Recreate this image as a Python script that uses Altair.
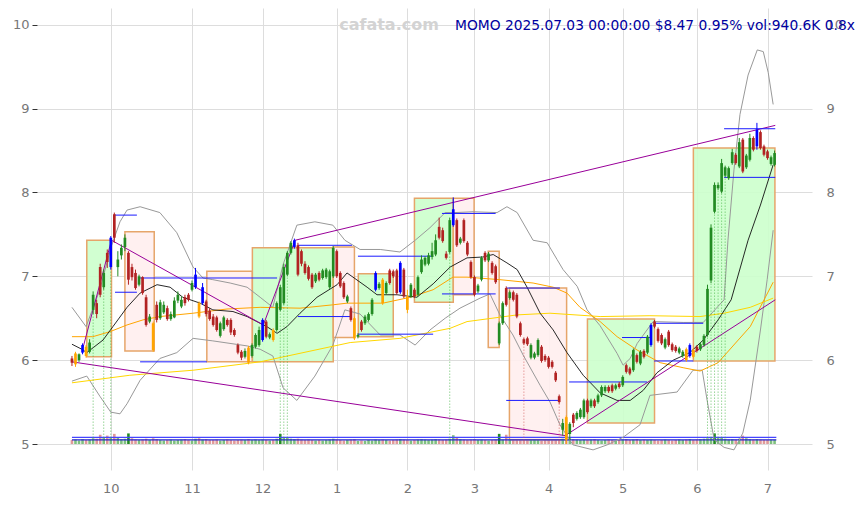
import altair as alt
import pandas as pd

# ---------------- daily candles (trading-day index 0..199, 2024-09-16 .. 2025-07-03) -------------
open_ = [6.02, 5.95, 6.00, 6.09, 6.16, 6.10, 6.60, 6.68, 7.11, 6.87,
         7.28, 7.11, 7.74, 7.11, 7.25, 7.35, 7.28, 7.11, 7.04, 6.90,
         6.99, 6.75, 6.46, 6.44, 6.66, 6.50, 6.57, 6.62, 6.49, 6.51,
         6.71, 6.64, 6.75, 6.78, 6.84, 6.87, 6.68, 6.68, 6.70, 6.59,
         6.52, 6.51, 6.29, 6.37, 6.48, 6.48, 6.36, 6.18, 6.10, 6.04,
         6.15, 6.05, 6.16, 6.18, 6.24, 6.46, 6.27, 6.36, 6.36, 6.60,
         6.68, 7.02, 7.28, 7.35, 7.37, 7.30, 7.15, 7.11, 7.02, 6.94,
         7.04, 6.98, 6.99, 6.87, 7.00, 7.30, 7.04, 6.92, 6.70, 6.62,
         6.50, 6.28, 6.46, 6.44, 6.48, 6.55, 6.84, 6.86, 6.96, 6.80,
         7.07, 7.06, 7.07, 6.81, 7.08, 6.76, 6.76, 6.84, 6.78, 7.05,
         7.14, 7.15, 7.23, 7.26, 7.59, 7.55, 7.27, 7.29, 7.61, 7.67,
         7.40, 7.67, 7.40, 7.17, 6.99, 6.82, 6.96, 7.28, 7.19, 7.16,
         7.12, 6.20, 6.44, 6.86, 6.74, 6.81, 6.78, 6.44, 6.25, 6.26,
         6.03, 6.03, 6.06, 6.16, 6.05, 6.03, 5.98, 5.85, 5.57, 5.17,
         5.32, 5.12, 5.35, 5.30, 5.32, 5.32, 5.52, 5.45, 5.52, 5.50,
         5.58, 5.63, 5.68, 5.70, 5.66, 5.72, 5.70, 5.94, 5.90, 5.88,
         6.06, 5.96, 6.11, 6.09, 6.18, 6.46, 6.37, 6.30, 6.15, 6.34,
         6.19, 6.16, 6.09, 6.05, 6.13, 6.05, 6.12, 6.16, 6.13, 6.18,
         6.30, 6.95, 7.77, 8.05, 8.01, 8.20, 8.17, 8.35, 8.45, 8.31,
         8.63, 8.30, 8.39, 8.65, 8.55, 8.72, 8.55, 8.49, 8.34, 8.33]
close = [5.97, 6.08, 6.07, 6.18, 6.05, 6.21, 6.78, 6.55, 6.78, 7.04,
         7.17, 7.46, 7.46, 7.20, 7.34, 7.46, 6.96, 6.99, 6.86, 7.00,
         6.80, 6.42, 6.52, 6.12, 6.48, 6.69, 6.66, 6.49, 6.55, 6.71,
         6.78, 6.72, 6.68, 6.72, 6.92, 7.02, 6.52, 6.87, 6.55, 6.49,
         6.42, 6.36, 6.44, 6.51, 6.42, 6.33, 6.30, 6.09, 6.03, 6.11,
         5.97, 6.18, 6.30, 6.36, 6.48, 6.28, 6.31, 6.24, 6.68, 6.87,
         7.11, 7.28, 7.40, 7.43, 7.02, 7.15, 7.04, 6.97, 6.87, 7.02,
         6.96, 7.07, 7.08, 7.06, 7.34, 7.00, 6.88, 6.75, 6.76, 6.48,
         6.26, 6.30, 6.36, 6.52, 6.55, 6.72, 7.04, 6.91, 6.68, 6.92,
         6.92, 7.00, 6.80, 7.16, 6.76, 6.60, 6.90, 6.76, 6.99, 7.20,
         7.22, 7.25, 7.30, 7.43, 7.46, 7.42, 7.22, 7.67, 7.80, 7.37,
         7.45, 7.42, 7.26, 6.99, 6.78, 6.89, 7.22, 7.19, 7.27, 7.04,
         6.93, 6.44, 6.68, 6.66, 6.81, 6.72, 6.52, 6.30, 6.20, 6.19,
         6.18, 6.08, 6.24, 5.99, 6.00, 5.92, 5.92, 5.76, 5.50, 5.25,
         5.05, 5.24, 5.25, 5.37, 5.41, 5.52, 5.38, 5.52, 5.45, 5.58,
         5.68, 5.68, 5.63, 5.63, 5.70, 5.68, 5.80, 5.86, 5.84, 6.12,
         5.98, 6.10, 6.04, 6.28, 6.42, 6.40, 6.23, 6.20, 6.25, 6.18,
         6.12, 6.11, 6.14, 6.10, 6.00, 6.18, 6.04, 6.11, 6.19, 6.29,
         6.85, 7.58, 8.09, 8.09, 8.35, 8.30, 8.29, 8.48, 8.35, 8.60,
         8.25, 8.44, 8.65, 8.51, 8.75, 8.53, 8.45, 8.41, 8.42, 8.47]
high = [6.05, 6.10, 6.08, 6.20, 6.18, 6.25, 6.82, 6.72, 7.15, 7.08,
        7.32, 7.48, 7.76, 7.30, 7.38, 7.50, 7.30, 7.15, 7.08, 7.02,
        7.00, 6.78, 6.55, 6.46, 6.70, 6.72, 6.70, 6.65, 6.58, 6.75,
        6.82, 6.76, 6.78, 6.80, 6.95, 7.10, 6.70, 6.92, 6.72, 6.62,
        6.55, 6.53, 6.46, 6.53, 6.50, 6.50, 6.38, 6.20, 6.12, 6.14,
        6.17, 6.20, 6.32, 6.40, 6.50, 6.48, 6.33, 6.38, 6.70, 6.90,
        7.15, 7.30, 7.42, 7.45, 7.40, 7.32, 7.18, 7.13, 7.04, 7.04,
        7.06, 7.09, 7.10, 7.08, 7.36, 7.32, 7.06, 6.94, 6.78, 6.64,
        6.52, 6.32, 6.48, 6.54, 6.57, 6.74, 7.06, 6.93, 6.98, 6.94,
        7.09, 7.08, 7.09, 7.18, 7.10, 6.84, 6.92, 6.86, 7.01, 7.25,
        7.24, 7.28, 7.40, 7.50, 7.70, 7.58, 7.30, 7.70, 7.94, 7.69,
        7.47, 7.69, 7.42, 7.19, 7.01, 6.91, 7.24, 7.30, 7.29, 7.18,
        7.14, 6.46, 6.70, 6.88, 6.83, 6.83, 6.80, 6.46, 6.27, 6.28,
        6.20, 6.10, 6.26, 6.18, 6.07, 6.05, 6.00, 5.87, 5.59, 5.30,
        5.34, 5.26, 5.37, 5.39, 5.43, 5.54, 5.54, 5.54, 5.54, 5.60,
        5.70, 5.70, 5.70, 5.72, 5.72, 5.74, 5.82, 5.96, 5.92, 6.14,
        6.08, 6.12, 6.13, 6.30, 6.44, 6.48, 6.39, 6.32, 6.27, 6.36,
        6.21, 6.18, 6.16, 6.12, 6.15, 6.20, 6.14, 6.18, 6.21, 6.31,
        6.90, 7.62, 8.12, 8.12, 8.40, 8.32, 8.31, 8.52, 8.47, 8.65,
        8.65, 8.46, 8.70, 8.67, 8.83, 8.74, 8.57, 8.51, 8.44, 8.50]
low = [5.93, 5.92, 5.98, 6.07, 6.03, 6.08, 6.55, 6.50, 6.75, 6.84,
       7.10, 7.08, 7.40, 7.00, 7.20, 7.30, 6.90, 6.95, 6.84, 6.88,
       6.78, 6.40, 6.44, 6.10, 6.45, 6.48, 6.55, 6.47, 6.47, 6.50,
       6.68, 6.62, 6.65, 6.70, 6.82, 6.85, 6.50, 6.66, 6.52, 6.47,
       6.40, 6.34, 6.27, 6.35, 6.40, 6.30, 6.28, 6.07, 6.00, 6.02,
       5.95, 6.03, 6.14, 6.16, 6.22, 6.26, 6.25, 6.22, 6.34, 6.58,
       6.66, 7.00, 7.26, 7.33, 7.00, 7.12, 7.02, 6.95, 6.85, 6.92,
       6.94, 6.96, 6.97, 6.85, 6.98, 6.98, 6.86, 6.73, 6.68, 6.46,
       6.24, 6.26, 6.34, 6.42, 6.46, 6.53, 6.82, 6.84, 6.66, 6.78,
       6.90, 6.98, 6.78, 6.79, 6.74, 6.56, 6.74, 6.74, 6.76, 7.03,
       7.12, 7.13, 7.20, 7.24, 7.44, 7.40, 7.20, 7.27, 7.59, 7.35,
       7.38, 7.40, 7.24, 6.97, 6.76, 6.80, 6.94, 7.17, 7.17, 7.02,
       6.91, 6.18, 6.42, 6.64, 6.72, 6.70, 6.50, 6.28, 6.18, 6.17,
       6.01, 6.01, 6.04, 5.97, 5.98, 5.90, 5.90, 5.74, 5.48, 5.10,
       5.00, 5.05, 5.20, 5.28, 5.30, 5.30, 5.36, 5.43, 5.43, 5.48,
       5.56, 5.61, 5.61, 5.61, 5.64, 5.66, 5.68, 5.84, 5.82, 5.86,
       5.96, 5.94, 6.02, 6.07, 6.16, 6.38, 6.21, 6.18, 6.13, 6.16,
       6.10, 6.09, 6.07, 6.03, 5.98, 6.03, 6.02, 6.09, 6.11, 6.16,
       6.28, 6.92, 7.75, 8.03, 7.99, 8.18, 8.15, 8.33, 8.33, 8.29,
       8.23, 8.28, 8.37, 8.49, 8.51, 8.51, 8.43, 8.39, 8.32, 8.31]
volume_k = [900, 1000, 800, 1100, 900, 1000, 1300, 1200, 2100, 1400,
            1900, 1600, 2300, 1500, 1100, 1200, 2400, 1300, 1000, 900,
            1000, 1200, 900, 1300, 1100, 900, 800, 900, 1000, 800,
            900, 1000, 1100, 900, 800, 1200, 1300, 1000, 1100, 900,
            900, 1000, 800, 900, 1000, 900, 800, 900, 1000, 900,
            1100, 900, 1000, 900, 1000, 900, 800, 900, 1200, 2300,
            1500, 1400, 1200, 1100, 1200, 1000, 900, 1000, 900, 800,
            900, 800, 900, 1000, 1200, 1000, 900, 800, 900, 1000,
            1100, 700, 800, 700, 900, 800, 1000, 900, 1000, 900,
            800, 900, 1000, 1100, 1000, 900, 800, 900, 1000, 1100,
            1000, 900, 1000, 1100, 1000, 900, 1000, 1200, 2000, 1400,
            1100, 1000, 900, 1000, 1100, 900, 1000, 900, 800, 900,
            1000, 2300, 1000, 2100, 1100, 1000, 900, 1000, 1100, 1000,
            900, 1000, 900, 800, 900, 1000, 900, 1000, 1100, 1200,
            2600, 1300, 1100, 1000, 900, 1000, 900, 1000, 1100, 900,
            800, 900, 1000, 900, 800, 900, 1000, 1100, 900, 1000,
            1100, 900, 1000, 900, 1000, 900, 800, 900, 1000, 900,
            800, 900, 1000, 900, 1000, 1100, 900, 1000, 1100, 1200,
            1300, 1500, 2400, 1600, 1400, 1200, 1000, 1100, 1000, 1200,
            1900, 1300, 1100, 1000, 1100, 1000, 900, 900, 1000, 940]
blue_idx = [3, 11, 35, 37, 54, 63, 86, 93, 108, 164, 175, 194]
orange_idx = [1, 4, 23, 36, 50, 57, 80, 88, 95, 140, 174, 176]
strong_vol_idx = [16, 59, 121, 182]
dot_green_idx = [6, 9, 11, 59, 60, 61, 107, 180, 181, 182, 183, 184, 185]
dot_red_idx = [128, 138]

# month ticks (first trading day of each month)
tick_idx = [11, 34, 54, 75, 95, 114, 135, 156, 177, 197]
tick_lab = ['10', '11', '12', '1', '2', '3', '4', '5', '6', '7']

# ---------------- indicator lines (index, price) ----------------
bb_up_i = [0, 4, 7.9, 11, 13.6, 15.6, 19.3, 24.9, 29.7, 34.3, 37.1, 39.9, 44.8, 49.6, 53.3, 56.9,
           59.8, 63.7, 68.8, 73.9, 77.3, 81.6, 87.3, 92.9, 97.2, 101.4, 105.7, 108.5, 113.6,
           120.4, 123.2, 126.1, 130.6, 134.6, 137.4, 139.1, 143.1, 145.9, 149.6, 154.4, 156.1,
           158.1, 160.1, 164.6, 173.1, 178.8, 184.7, 185.8, 187.5, 189.2, 191.5, 194.1, 195.8,
           197.2, 198.6]
bb_up_p = [6.63, 6.40, 6.84, 7.34, 7.65, 7.79, 7.83, 7.76, 7.52, 7.11, 6.98, 6.96, 6.92, 6.87, 6.75, 6.63,
           7.14, 7.61, 7.65, 7.61, 7.43, 7.32, 7.32, 7.29, 7.43, 7.58, 7.76, 7.76, 7.77,
           7.76, 7.83, 7.76, 7.43, 7.40, 7.20, 7.08, 6.88, 6.60, 6.41, 6.08, 5.94,
           6.02, 6.20, 6.46, 6.45, 6.45, 6.72, 7.43, 8.27, 8.93, 9.40, 9.70, 9.68,
           9.43, 9.05]
bb_lo_i = [0, 4.2, 7.9, 11, 13.6, 15.6, 19.3, 24.9, 29.7, 34.3, 39.9, 49.6, 53.3, 56.9, 59.8, 63.7,
           68.8, 73.9, 77.3, 81.6, 87.3, 92.9, 97.2, 101.4, 105.7, 109.9, 115.6, 118.4, 121.2,
           124.9, 127.8, 132.6, 135.4, 138.2, 141.9, 147.6, 151.6, 156.1, 160.9, 163.7, 171.4,
           175.9, 178.5, 179.9, 181.9, 184.7, 187.5, 190, 192.1, 195, 196.9, 198.6]
bb_lo_p = [5.75, 5.81, 5.57, 5.38, 5.36, 5.48, 5.76, 6.02, 6.09, 6.26, 6.23, 6.17, 6.13, 6.05, 5.67, 5.52,
           5.81, 6.18, 6.60, 6.55, 6.30, 6.30, 6.18, 6.36, 6.50, 6.62, 6.74, 6.79, 6.54,
           6.30, 6.06, 5.70, 5.50, 5.23, 4.99, 4.93, 4.99, 5.08, 5.23, 5.58, 5.62,
           5.88, 5.88, 5.52, 5.05, 4.96, 4.93, 5.13, 5.52, 6.36, 6.96, 7.55]
ma20_i = [0, 2.8, 4.2, 8.8, 11.6, 15.6, 19.3, 24.1, 27.8, 31.4, 36.3, 39.9, 45.6, 49.6, 53.3, 55.2,
          58.1, 60.9, 64.6, 69.4, 75.1, 77.9, 79.6, 83.6, 86.4, 92.1, 97.7, 102.3, 107.1, 111.9,
          116.4, 119.3, 123.2, 126.1, 128.9, 132.6, 136.3, 140.2, 144.8, 149.6, 154.4, 158.1,
          161.8, 165.7, 170.3, 175, 178.8, 183, 186.7, 191.5, 195, 198.6]
ma20_p = [6.19, 6.13, 6.09, 6.24, 6.40, 6.63, 6.80, 6.90, 6.87, 6.75, 6.68, 6.60, 6.58, 6.52, 6.44, 6.40,
          6.32, 6.40, 6.56, 6.75, 6.90, 7.04, 6.99, 6.87, 6.78, 6.78, 6.75, 6.91, 7.11, 7.22,
          7.23, 7.26, 7.16, 7.08, 6.87, 6.56, 6.36, 6.09, 5.82, 5.61, 5.52, 5.52,
          5.64, 5.85, 6.00, 6.09, 6.24, 6.48, 6.72, 7.43, 7.85, 8.33]
ma60_i = [0, 5.9, 10.8, 15.6, 20.1, 24.9, 34.3, 43.9, 53.3, 64.6, 73.9, 77.9, 88.1, 95.8, 102.3,
          107.9, 111.9, 121.2, 130.6, 136.3, 140.2, 143.9, 149.6, 154.4, 160.1, 166.6, 173.1,
          177.9, 183, 188.7, 192.1, 198.6]
ma60_p = [6.28, 6.28, 6.34, 6.42, 6.48, 6.52, 6.56, 6.61, 6.63, 6.62, 6.66, 6.68, 6.68, 6.75, 6.84,
          6.99, 6.99, 6.96, 6.92, 6.87, 6.80, 6.63, 6.46, 6.28, 6.12, 5.97, 5.91,
          5.87, 5.97, 6.24, 6.40, 6.93]
ma120_i = [0, 16.4, 34.3, 53.3, 78.8, 92.9, 107.1, 111.9, 126.1, 135.4, 149.6, 163.7, 177.9,
           184.7, 192.1, 198.6]
ma120_p = [5.73, 5.82, 5.88, 5.98, 6.21, 6.26, 6.38, 6.46, 6.54, 6.56, 6.52, 6.53, 6.52,
           6.56, 6.63, 6.74]

# purple trend lines: (start index, start price, end index, end price)
trend_x1 = [0, 3.2, 11.2, 54.2, 63.2, 139.7]
trend_y1 = [5.98, 6.16, 7.43, 6.42, 7.43, 5.10]
trend_x2 = [139.7, 11.2, 54.2, 63.2, 199.2, 199.2]
trend_y2 = [5.10, 7.43, 6.42, 7.43, 8.80, 6.72]

# blue level segments
lvl_x1 = [12.2, 12.2, 19.3, 19.3, 64, 64, 81, 81, 104.8, 104.8, 123, 123, 140.8, 155.8, 164.9, 164.9, 184.7, 184.7]
lvl_x2 = [18.4, 18.4, 58.1, 38.2, 79.3, 79.3, 102.3, 102.3, 120, 120, 138.2, 138.2, 162.9, 163.7, 178.8, 176, 199.2, 199.2]
lvl_p = [7.73, 6.81, 6.98, 5.98, 7.37, 6.52, 7.24, 6.31, 7.75, 6.79, 6.86, 5.52, 5.74, 6.27, 6.44, 5.99, 8.76, 8.18]

# zone boxes
box_x1 = [4.2, 15.0, 38.2, 51.1, 74.0, 81.1, 97.0, 108.0, 117.9, 123.9, 146.0, 176.0]
box_x2 = [11.2, 23.3, 51.1, 74.0, 80.0, 91.0, 108.0, 113.9, 121.0, 140.1, 165.0, 199.1]
box_lo = [6.04, 6.11, 5.98, 5.98, 6.27, 6.28, 6.69, 6.78, 6.15, 5.05, 5.25, 5.99]
box_hi = [7.43, 7.53, 7.06, 7.34, 7.35, 7.03, 7.93, 7.93, 7.30, 6.86, 6.49, 8.53]
box_kind = ['up', 'down', 'down', 'up', 'down', 'up', 'up', 'down', 'down', 'down', 'up', 'up']

# volume average lines (price-axis positions of the thin bands at the bottom)
vol_avg_p = [5.08, 5.05]

title_text = 'MOMO 2025.07.03 00:00:00 $8.47 0.95% vol:940.6K 0.8x'
watermark = 'cafata.com'

# ---------------- build frames ----------------
N = len(close)
kind = []
for k in range(N):
    if k in blue_idx:
        kind.append('blue')
    elif k in orange_idx:
        kind.append('orange')
    elif close[k] >= open_[k]:
        kind.append('up')
    else:
        kind.append('down')
cdf = pd.DataFrame(dict(i=list(range(N)), o=open_, h=high, l=low, c=close, v=volume_k, kind=kind))
cdf['vbase'] = 5.0
cdf['vtop'] = 5.0 + cdf['v'] / 19000.0
cdf['vkind'] = ['strong' if k in strong_vol_idx else ('vup' if close[k] >= open_[k] else 'vdown')
                for k in range(N)]


def lines_df(xs, ps):
    return pd.DataFrame({'i': xs, 'p': ps})


XS = alt.Scale(domain=[-9.9, 209.6], nice=False, zero=False, padding=0)
YS = alt.Scale(domain=[4.69, 10.2], nice=False, zero=False, padding=0)


def X(f):
    return alt.X(f, type='quantitative', scale=XS, axis=None)


def Y(f):
    return alt.Y(f, type='quantitative', scale=YS, axis=None)


lab_expr = "[" + ",".join("'%s'" % t for t in tick_lab) + "][indexof([" + \
    ",".join(str(t) for t in tick_idx) + "], datum.value)]"

FONT = 'DejaVu Sans'

axes_layer = alt.Chart(cdf).mark_point(opacity=0).encode(
    x=alt.X('i:Q', scale=XS, axis=alt.Axis(
        values=tick_idx, labelExpr=lab_expr, grid=True, gridColor='#dddddd', ticks=False,
        domain=False, labelPadding=12, labelFontSize=13, labelColor='#777777', title=None,
        labelFont=FONT)),
    y=alt.Y('c:Q', scale=YS, axis=alt.Axis(
        values=[5, 6, 7, 8, 9, 10], grid=True, gridColor='#dddddd', domain=False,
        tickColor='#333333', tickSize=5, labelPadding=3, labelFontSize=13,
        labelColor='#777777', title=None, orient='left', labelFont=FONT)),
)
right_axis = alt.Chart(cdf).mark_point(opacity=0).encode(
    x=X('i'),
    y=alt.Y('c:Q', scale=YS, axis=alt.Axis(
        values=[5, 6, 7, 8, 9, 10], grid=False, domain=False, ticks=False, labelPadding=14,
        labelFontSize=13, labelColor='#777777', title=None, orient='right', labelFont=FONT)),
)

bdf = pd.DataFrame(dict(x1=box_x1, x2=box_x2, lo=box_lo, hi=box_hi, kind=box_kind))
boxes = alt.Chart(bdf).mark_rect(stroke='#e6a56a', strokeWidth=1.5, fillOpacity=0.9).encode(
    x=X('x1'), x2='x2', y=Y('lo'), y2='hi',
    fill=alt.Fill('kind:N', scale=alt.Scale(domain=['up', 'down'], range=['#ccffcc', '#ffeeee']),
                  legend=None),
)

vol_bars = alt.Chart(cdf).mark_bar(size=2.6).encode(
    x=X('i'), y=Y('vbase'), y2='vtop',
    color=alt.Color('vkind:N', scale=alt.Scale(domain=['vup', 'vdown', 'strong'],
                                               range=['#7fc07f', '#e09a9a', '#228b22']), legend=None),
)
vadf = pd.DataFrame({'x1': [0, 0], 'x2': [199.5, 199.5], 'p': vol_avg_p, 'k': ['a', 'b']})
vol_avg = alt.Chart(vadf).mark_rule(strokeWidth=1.2).encode(
    x=X('x1'), x2='x2', y=Y('p'),
    color=alt.Color('k:N', scale=alt.Scale(domain=['a', 'b'], range=['#4444ff', '#2222cc']), legend=None),
)

bb_up = alt.Chart(lines_df(bb_up_i, bb_up_p)).mark_line(color='#999999', strokeWidth=1).encode(x=X('i'), y=Y('p'))
bb_lo = alt.Chart(lines_df(bb_lo_i, bb_lo_p)).mark_line(color='#999999', strokeWidth=1).encode(x=X('i'), y=Y('p'))
ma20 = alt.Chart(lines_df(ma20_i, ma20_p)).mark_line(color='#111111', strokeWidth=0.9).encode(x=X('i'), y=Y('p'))
ma60 = alt.Chart(lines_df(ma60_i, ma60_p)).mark_line(color='#ffa500', strokeWidth=1).encode(x=X('i'), y=Y('p'))
ma120 = alt.Chart(lines_df(ma120_i, ma120_p)).mark_line(color='#ffd700', strokeWidth=1).encode(x=X('i'), y=Y('p'))

tdf = pd.DataFrame(dict(x1=trend_x1, x2=trend_x2, y1=trend_y1, y2=trend_y2))
trends = alt.Chart(tdf).mark_rule(color='#990099', strokeWidth=1).encode(
    x=X('x1'), x2='x2', y=Y('y1'), y2='y2')

ldf = pd.DataFrame(dict(x1=lvl_x1, x2=lvl_x2, p=lvl_p))
levels = alt.Chart(ldf).mark_rule(color='#1a1aff', strokeWidth=1).encode(
    x=X('x1'), x2='x2', y=Y('p'))

dot_df = pd.DataFrame({
    'i': dot_green_idx + dot_red_idx,
    'top': [low[k] for k in dot_green_idx + dot_red_idx],
    'bot': [5.04] * (len(dot_green_idx) + len(dot_red_idx)),
    'k': ['g'] * len(dot_green_idx) + ['r'] * len(dot_red_idx),
})
dots = alt.Chart(dot_df).mark_rule(strokeDash=[1, 2], strokeWidth=1, opacity=0.8).encode(
    x=X('i'), y=Y('bot'), y2='top',
    color=alt.Color('k:N', scale=alt.Scale(domain=['g', 'r'], range=['#3cb03c', '#d05050']), legend=None),
)

cscale = alt.Scale(domain=['up', 'down', 'blue', 'orange'],
                   range=['#228b22', '#b22222', '#0000ff', '#ffa500'])
wicks = alt.Chart(cdf).mark_rule(strokeWidth=1).encode(
    x=X('i'), y=Y('l'), y2='h', color=alt.Color('kind:N', scale=cscale, legend=None))
bodies = alt.Chart(cdf).mark_bar(size=2.7).encode(
    x=X('i'), y=Y('o'), y2='c', color=alt.Color('kind:N', scale=cscale, legend=None))

wm = alt.Chart(pd.DataFrame({'t': [watermark]})).mark_text(
    align='center', baseline='middle', fontSize=16, fontWeight='bold', color='#d3d3d3', font=FONT
).encode(x=alt.value(352), y=alt.value(17), text='t:N')
ttl = alt.Chart(pd.DataFrame({'t': [title_text]})).mark_text(
    align='left', baseline='middle', fontSize=13.8, color='#0000a0', font=FONT
).encode(x=alt.value(418), y=alt.value(18), text='t:N')

chart = alt.layer(
    axes_layer, boxes, vol_bars, vol_avg, bb_up, bb_lo, ma120, ma60, ma20, trends, levels, dots,
    wicks, bodies, right_axis, wm, ttl
).resolve_scale(
    y='independent', color='independent', fill='independent'
).resolve_axis(
    x='independent'
).properties(
    width=775, height=462, autosize=alt.AutoSizeParams(type='none'),
    padding={'left': 29, 'top': 0, 'right': 44, 'bottom': 27},
).configure(background='white').configure_view(stroke=None)

chart.save('out.html', embed_options={'renderer': 'svg', 'actions': False})
